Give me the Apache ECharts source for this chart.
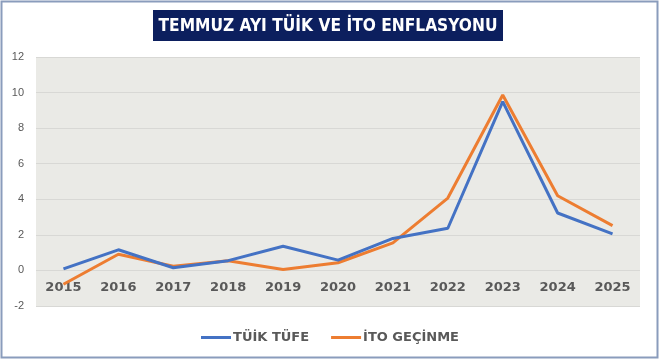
<!DOCTYPE html>
<html>
<head>
<meta charset="utf-8">
<script src="https://cdn.jsdelivr.net/npm/echarts@6/dist/echarts.min.js"></script>
<style>
html,body{margin:0;padding:0;background:#fff;}
#chart{width:660px;height:361px;}
</style>
</head>
<body>
<div id="chart"></div>
<script>
const titleText = 'TEMMUZ AYI TÜİK VE İTO ENFLASYONU';
const years = ['2015','2016','2017','2018','2019','2020','2021','2022','2023','2024','2025'];
const tuikTufe = [0.09, 1.16, 0.15, 0.55, 1.36, 0.58, 1.80, 2.37, 9.49, 3.23, 2.06];
const itoGecinme = [-0.78, 0.91, 0.24, 0.55, 0.05, 0.43, 1.55, 4.07, 9.86, 4.20, 2.52];
const seriesNames = ['TÜİK TÜFE', 'İTO GEÇİNME'];
const yTicks = [-2, 0, 2, 4, 6, 8, 10, 12];

const gridTop = 57, gridBottom = 55, chartH = 361;
const yMin = yTicks[0], yMax = yTicks[yTicks.length-1];
const plotH = chartH - gridTop - gridBottom;
// shift the category axis up so it sits at the zero line (Excel "axis crosses at 0")
const zeroOffset = plotH * (0 - yMin) / (yMax - yMin);

const chart = echarts.init(document.getElementById('chart'), null, {renderer:'canvas'});
const labelFont = "'DejaVu Sans', Verdana, sans-serif";
chart.setOption({
  animation: false,
  backgroundColor: '#ffffff',
  graphic: [
    {type:'rect', shape:{x:1.5,y:1.5,width:656,height:356}, style:{fill:'none', stroke:'#8a9cbc', lineWidth:2}, z:-1},
    {type:'rect', shape:{x:153,y:10,width:350,height:31}, style:{fill:'#0c1f5e'}, z:10},
    {type:'text', x:328, y:26, scaleX:0.955, style:{text:titleText, fill:'#ffffff', font:"bold 18px 'DejaVu Sans Condensed', 'DejaVu Sans', sans-serif", align:'center', verticalAlign:'middle'}, z:11}
  ],
  grid: {left:36, right:20, top:gridTop, bottom:gridBottom, show:true, backgroundColor:'#eaeae6', borderWidth:0},
  legend: {
    bottom: 12, left: 'center', itemWidth: 30, itemHeight: 3, itemGap: 22,
    icon: 'rect',
    textStyle: {fontFamily: labelFont, fontWeight:'bold', fontSize:13, color:'#595959', padding:[0,0,0,-3]},
    data: seriesNames
  },
  xAxis: {
    type: 'category', data: years, boundaryGap: true,
    offset: -zeroOffset,
    axisLine: {show:false},
    axisTick: {show:false},
    axisLabel: {margin: 11, fontFamily: labelFont, fontWeight:'bold', fontSize:13, color:'#595959'},
    splitLine: {show:false}
  },
  yAxis: {
    type: 'value', min: yMin, max: yMax, interval: 2,
    axisLine: {show:false}, axisTick:{show:false},
    axisLabel: {margin: 12, fontFamily:"'Liberation Sans', Arial, sans-serif", fontSize:11, color:'#595959'},
    splitLine: {show:true, lineStyle:{color:'#d8d8d5', width:1}}
  },
  series: [
    {name: seriesNames[0], type:'line', data: tuikTufe, symbol:'none', lineStyle:{color:'#4472c4', width:3}, itemStyle:{color:'#4472c4'}, z:3},
    {name: seriesNames[1], type:'line', data: itoGecinme, symbol:'none', lineStyle:{color:'#ed7d31', width:3}, itemStyle:{color:'#ed7d31'}, z:2}
  ]
});
</script>
</body>
</html>
